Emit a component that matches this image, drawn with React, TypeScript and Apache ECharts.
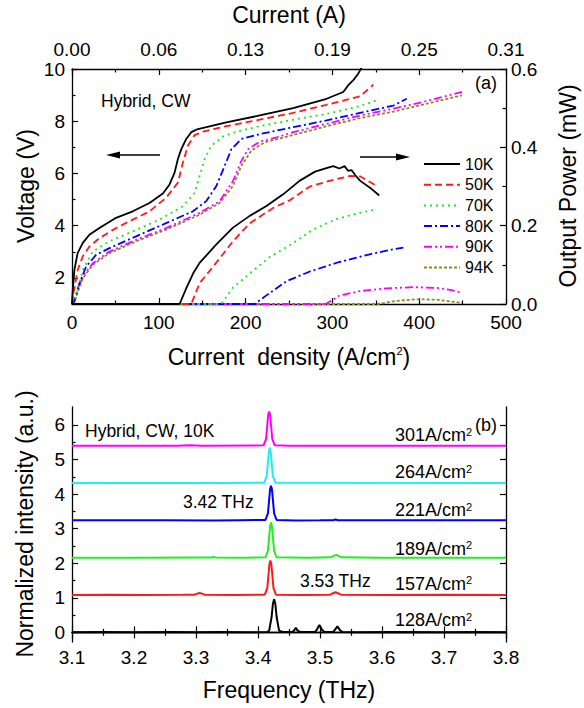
import { useEffect, useRef } from "react";
import * as echarts from "echarts";

// ---- Panel (a): voltage and output power versus current density ----
const temperatures = ["10K", "50K", "70K", "80K", "90K", "94K"];

// Top-axis current labels for density ticks 0, 100, ... 500 A/cm²
const currentTickLabels = ["0.00", "0.06", "0.13", "0.19", "0.25", "0.31"];

// [current density (A/cm²), voltage (V)]
const voltage10K: [number, number][] = [
  [0, 1.0], [0.8, 1.5], [2.7, 2.3], [6.5, 2.95], [12.3, 3.33], [20, 3.65], [31.6, 3.91],
  [50.8, 4.3], [70, 4.55], [89.3, 4.87], [104.7, 5.23], [112.4, 5.58], [118.2, 6.03],
  [122, 6.55], [125.9, 6.93], [131.6, 7.32], [137.4, 7.58], [145.1, 7.7], [177.8, 7.96],
  [216.3, 8.22], [254.8, 8.5], [293.3, 8.86], [312.5, 9.12], [318.3, 9.38], [324.1, 9.57],
  [329.9, 9.83], [333.7, 10.06],
];
const voltage50K: [number, number][] = [
  [0, 1.0], [1.5, 1.4], [3.8, 1.79], [6.5, 2.3], [12.3, 2.82], [20, 3.2], [31.6, 3.52],
  [50.8, 3.91], [70, 4.23], [89.3, 4.55], [108.5, 5.07], [122, 5.65], [127.8, 6.42],
  [133.5, 7.06], [141.2, 7.47], [150.9, 7.6], [177.8, 7.81], [216.3, 8.06], [254.8, 8.32],
  [293.3, 8.63], [331.8, 8.95], [347.2, 9.4],
];
const voltage70K: [number, number][] = [
  [0, 1.0], [2.7, 1.1], [6.5, 1.53], [12.3, 2.3], [23.9, 3.01], [43.1, 3.4], [70, 3.78],
  [100.8, 4.23], [127.8, 4.75], [141.3, 5.26], [147, 5.9], [152.8, 6.55], [160.5, 7.06],
  [174, 7.42], [189.4, 7.6], [216.3, 7.81], [254.8, 8.06], [293.3, 8.28], [331.8, 8.58],
  [351, 8.8],
];
const voltage80K: [number, number][] = [
  [0, 1.0], [2.7, 1.1], [8.5, 1.79], [16.2, 2.43], [27.7, 2.88], [43.1, 3.14], [73.9, 3.59],
  [108.5, 4.1], [139.3, 4.55], [154.7, 4.94], [166.3, 5.52], [175.9, 6.29], [183.6, 6.93],
  [195.1, 7.32], [216.3, 7.51], [254.8, 7.77], [293.3, 8.03], [331.8, 8.32], [370.3, 8.6],
  [385.7, 8.86],
];
const voltage90K: [number, number][] = [
  [0, 1.0], [2.7, 1.1], [6.5, 1.53], [12.3, 2.05], [23.9, 2.56], [43.1, 3.01], [73.9, 3.46],
  [108.5, 3.91], [147, 4.49], [170.1, 4.94], [185.5, 5.71], [195.1, 6.48], [202.8, 6.93],
  [216.3, 7.22], [235.6, 7.38], [254.8, 7.58], [293.3, 7.9], [331.8, 8.22], [370.3, 8.48],
  [408.8, 8.77], [449.2, 9.12],
];
const voltage94K: [number, number][] = [
  [0, 1.0], [2.7, 1.05], [6.5, 1.45], [12.3, 1.98], [23.9, 2.5], [43.1, 2.95], [73.9, 3.4],
  [108.5, 3.85], [147, 4.42], [170.1, 4.87], [185.5, 5.52], [195.1, 6.29], [206.6, 6.87],
  [221.7, 7.19], [254.8, 7.47], [293.3, 7.81], [331.8, 8.12], [370.3, 8.37], [408.8, 8.67],
  [449.2, 8.99],
];

// [current density (A/cm²), output power (mW)]
const power10K: [number, number][] = [
  [0, 0], [124, 0], [131.6, 0.04], [140, 0.08], [147, 0.105], [166.3, 0.152], [185.5, 0.195],
  [204.7, 0.225], [224, 0.25], [243.2, 0.28], [262.5, 0.315], [280, 0.338], [295, 0.348],
  [301, 0.352], [308, 0.346], [314, 0.352], [318, 0.34], [322, 0.342], [326, 0.33],
  [331.8, 0.315], [343.3, 0.297], [354, 0.277],
];
const power50K: [number, number][] = [
  [0, 0], [137.4, 0], [147, 0.053], [162.4, 0.095], [185.5, 0.16], [204.7, 0.206],
  [231.7, 0.245], [250.9, 0.265], [274, 0.3], [301, 0.317], [320.2, 0.327], [331.8, 0.326],
  [339.5, 0.316], [349, 0.304],
];
const power70K: [number, number][] = [
  [0, 0], [172, 0], [185.5, 0.042], [204.7, 0.078], [227.8, 0.12], [250.9, 0.15],
  [277.8, 0.19], [304.8, 0.217], [330, 0.232], [347.2, 0.24],
];
const power80K: [number, number][] = [
  [0, 0], [210.5, 0], [224, 0.022], [247, 0.058], [274, 0.083], [306, 0.106], [343, 0.127],
  [366.4, 0.138], [381.8, 0.144],
];
const power90K: [number, number][] = [
  [0, 0], [292, 0], [300, 0.01], [308.6, 0.022], [331.8, 0.033], [362.6, 0.04],
  [393.4, 0.043], [420.3, 0.041], [436, 0.036], [449.2, 0.029],
];
const power94K: [number, number][] = [
  [0, 0], [352, 0], [374, 0.008], [397, 0.012], [420.3, 0.011], [449.2, 0.003],
];

// ---- Panel (b): lasing spectra at 10K, stacked with vertical offsets ----
const spectrumDensities = [128, 157, 189, 221, 264, 301];
const spectrumOffsets = [0, 1.08, 2.16, 3.24, 4.32, 5.4];

// [frequency (THz), normalized intensity]
const spectrum128: [number, number][] = [
  [3.1, 0], [3.15, 0.01], [3.2, 0], [3.26, 0.01], [3.3, 0], [3.34, 0.01], [3.38, 0],
  [3.415, 0.01], [3.418, 0.05], [3.422, 0.45], [3.424, 0.82], [3.426, 0.96], [3.428, 0.82],
  [3.43, 0.45], [3.434, 0.05], [3.44, 0.01], [3.455, 0.01], [3.458, 0.05], [3.461, 0.13],
  [3.464, 0.05], [3.468, 0.01], [3.492, 0.01], [3.495, 0.08], [3.499, 0.21], [3.503, 0.08],
  [3.507, 0.01], [3.521, 0.01], [3.524, 0.07], [3.528, 0.17], [3.532, 0.07], [3.536, 0.01],
  [3.56, 0], [3.62, 0.01], [3.7, 0], [3.75, 0.01], [3.8, 0],
];
const spectrum157: [number, number][] = [
  [3.1, 0], [3.16, 0.005], [3.22, 0], [3.28, 0.005], [3.298, 0.01], [3.302, 0.04],
  [3.306, 0.06], [3.31, 0.04], [3.314, 0.01], [3.36, 0], [3.411, 0.01], [3.415, 0.2],
  [3.417, 0.6], [3.4185, 0.9], [3.42, 1.0], [3.4215, 0.9], [3.423, 0.6], [3.425, 0.2],
  [3.429, 0.01], [3.47, 0], [3.516, 0.01], [3.521, 0.05], [3.525, 0.08], [3.529, 0.05],
  [3.534, 0.01], [3.6, 0], [3.7, 0.005], [3.8, 0],
];
const spectrum189: [number, number][] = [
  [3.1, 0], [3.2, 0], [3.3, 0.005], [3.324, 0.005], [3.328, 0.02], [3.332, 0.005], [3.38, 0],
  [3.412, 0.01], [3.416, 0.2], [3.418, 0.6], [3.4195, 0.9], [3.421, 1.02], [3.4225, 0.9],
  [3.424, 0.6], [3.426, 0.2], [3.43, 0.01], [3.48, 0], [3.517, 0.01], [3.522, 0.05],
  [3.526, 0.08], [3.53, 0.05], [3.535, 0.01], [3.6, 0], [3.8, 0],
];
const spectrum221: [number, number][] = [
  [3.1, 0], [3.25, 0], [3.33, -0.005], [3.37, 0.005], [3.412, 0.01], [3.416, 0.2],
  [3.418, 0.6], [3.4195, 0.9], [3.421, 1.0], [3.4225, 0.9], [3.424, 0.6], [3.426, 0.2],
  [3.43, 0.01], [3.46, -0.005], [3.5, 0], [3.521, 0.005], [3.525, 0.025], [3.529, 0.005],
  [3.6, 0], [3.8, 0],
];
const spectrum264: [number, number][] = [
  [3.1, 0], [3.14, 0.01], [3.16, 0], [3.3, 0], [3.32, 0.01], [3.34, 0], [3.41, 0.01],
  [3.414, 0.2], [3.416, 0.6], [3.4175, 0.9], [3.419, 1.02], [3.4205, 0.9], [3.422, 0.6],
  [3.424, 0.2], [3.428, 0.01], [3.44, 0.005], [3.8, 0],
];
const spectrum301: [number, number][] = [
  [3.1, 0], [3.27, 0], [3.29, 0.01], [3.31, 0], [3.409, 0.01], [3.413, 0.2], [3.415, 0.6],
  [3.4165, 0.9], [3.418, 0.99], [3.4195, 0.9], [3.421, 0.6], [3.423, 0.2], [3.427, 0.01],
  [3.44, 0.005], [3.45, 0], [3.8, 0],
];

// ---- Styling ----
const FONT = "'Liberation Sans', Arial, Helvetica, sans-serif";
const tempColors = ["#000000", "#ff1a1a", "#1ee61e", "#0000ff", "#ff00ff", "#8c8c1e"];
const tempDashes: any[] = ["solid", [7, 4], [2, 4], [8, 3, 2, 3], [8, 3, 2, 3, 2, 3], [3, 2]];
const spectrumColors = ["#000000", "#ff1a1a", "#22ee22", "#0000ff", "#22eeee", "#ff00ff"];

const voltageCurves = [voltage10K, voltage50K, voltage70K, voltage80K, voltage90K, voltage94K];
const powerCurves = [power10K, power50K, power70K, power80K, power90K, power94K];
const spectra = [spectrum128, spectrum157, spectrum189, spectrum221, spectrum264, spectrum301];

const axisLine = { show: true, lineStyle: { color: "#000", width: 1.3 } };
const tickStyle = { color: "#000", width: 1.2 };
const labelBase = { color: "#000", fontSize: 19, fontFamily: FONT };
const minor = { show: true, splitNumber: 2, length: 3.5, lineStyle: tickStyle };

function buildOption() {
  const grids = [
    { left: 72, top: 69, width: 434, height: 235, outerBoundsMode: "none" },
    { left: 72, top: 407, width: 434, height: 235, outerBoundsMode: "none" },
  ];

  const xAxis: any[] = [
    {
      gridIndex: 0, type: "value", position: "bottom", min: 0, max: 500, interval: 100,
      axisLine, splitLine: { show: false },
      axisTick: { inside: true, length: 6, lineStyle: tickStyle }, minorTick: minor,
      axisLabel: { ...labelBase, margin: 9, showMinLabel: true, showMaxLabel: true },
    },
    {
      gridIndex: 0, type: "value", position: "top", min: 0, max: 500, interval: 100,
      axisLine, splitLine: { show: false },
      axisTick: { inside: true, length: 6, lineStyle: tickStyle }, minorTick: minor,
      axisLabel: {
        ...labelBase, margin: 10, showMinLabel: true, showMaxLabel: true,
        formatter: (v: number) => currentTickLabels[Math.round(v / 100)] ?? "",
      },
    },
    {
      gridIndex: 1, type: "value", position: "bottom", min: 3.1, max: 3.8, interval: 0.1,
      axisLine, splitLine: { show: false },
      axisTick: { inside: true, length: 6, lineStyle: tickStyle }, minorTick: minor,
      axisLabel: {
        ...labelBase, margin: 6, showMinLabel: true, showMaxLabel: true,
        formatter: (v: number) => v.toFixed(1),
      },
    },
    {
      gridIndex: 1, type: "value", position: "top", min: 3.1, max: 3.8, interval: 0.1,
      axisLine, splitLine: { show: false },
      axisTick: { inside: true, length: 6, lineStyle: tickStyle }, minorTick: minor,
      axisLabel: { show: false },
    },
  ];

  const voltageMajor = [2, 4, 6, 8, 10];
  const voltageMinor = [3, 5, 7, 9];
  const intensityMajor = [0, 1, 2, 3, 4, 5, 6];
  const intensityMinor = [0.5, 1.5, 2.5, 3.5, 4.5, 5.5];

  const yAxis: any[] = [
    {
      gridIndex: 0, type: "value", position: "left", min: 1, max: 10,
      axisLine, splitLine: { show: false },
      axisTick: { inside: true, length: 6, lineStyle: tickStyle, customValues: voltageMajor },
      axisLabel: { ...labelBase, margin: 7, customValues: voltageMajor },
    },
    {
      gridIndex: 0, type: "value", position: "left", min: 1, max: 10,
      axisLine: { show: false }, splitLine: { show: false },
      axisTick: { inside: true, length: 3.5, lineStyle: tickStyle, customValues: voltageMinor },
      axisLabel: { show: false },
    },
    {
      gridIndex: 0, type: "value", position: "right", min: 0, max: 0.6, interval: 0.2,
      axisLine, splitLine: { show: false },
      axisTick: { inside: true, length: 6, lineStyle: tickStyle }, minorTick: minor,
      axisLabel: {
        ...labelBase, margin: 5, showMinLabel: true, showMaxLabel: true,
        formatter: (v: number) => v.toFixed(1),
      },
    },
    {
      gridIndex: 1, type: "value", position: "left", min: -0.28, max: 6.52,
      axisLine, splitLine: { show: false },
      axisTick: { inside: true, length: 6, lineStyle: tickStyle, customValues: intensityMajor },
      axisLabel: { ...labelBase, margin: 7, customValues: intensityMajor },
    },
    {
      gridIndex: 1, type: "value", position: "left", min: -0.28, max: 6.52,
      axisLine: { show: false }, splitLine: { show: false },
      axisTick: { inside: true, length: 3.5, lineStyle: tickStyle, customValues: intensityMinor },
      axisLabel: { show: false },
    },
    {
      gridIndex: 1, type: "value", position: "right", min: -0.28, max: 6.52,
      axisLine, splitLine: { show: false },
      axisTick: { inside: true, length: 6, lineStyle: tickStyle, customValues: intensityMajor },
      axisLabel: { show: false },
    },
  ];

  const series: any[] = [];
  temperatures.forEach((t, i) => {
    const style = { color: tempColors[i], width: 1.8, type: tempDashes[i] };
    series.push({
      name: t, type: "line", xAxisIndex: 0, yAxisIndex: 0, data: voltageCurves[i],
      symbol: "none", lineStyle: style, itemStyle: { color: tempColors[i] }, z: 10 - i,
    });
  });
  temperatures.forEach((t, i) => {
    const style = { color: tempColors[i], width: 1.8, type: tempDashes[i] };
    series.push({
      name: t, type: "line", xAxisIndex: 0, yAxisIndex: 2, data: powerCurves[i],
      symbol: "none", lineStyle: style, itemStyle: { color: tempColors[i] }, z: 10 - i,
    });
  });
  spectra.forEach((s, i) => {
    series.push({
      name: `${spectrumDensities[i]} A/cm2`, type: "line", xAxisIndex: 2, yAxisIndex: 3,
      data: s.map(([f, v]) => [f, v + spectrumOffsets[i]]),
      symbol: "none", lineStyle: { color: spectrumColors[i], width: 2 },
      itemStyle: { color: spectrumColors[i] },
    });
  });

  const txt = (x: number, y: number, text: string, size: number, extra: any = {}) => ({
    type: "text", x, y, ...extra,
    style: {
      text, fill: "#000", fontSize: size, fontFamily: FONT,
      textAlign: "left", textVerticalAlign: "middle", ...(extra.style || {}),
    },
  });
  const supRich = {
    s: { fontSize: 11, fontFamily: FONT, fill: "#000", verticalAlign: "top" },
  };

  const densityLabelY = [620, 583.5, 548.5, 510, 472, 435];

  const graphic: any[] = [
    txt(289, 15, "Current (A)", 23, { style: { textAlign: "center" } }),
    txt(289, 357, "Current  density (A/cm{s|2})", 23, { style: { textAlign: "center", rich: supRich } }),
    txt(26, 186, "Voltage (V)", 23, { rotation: Math.PI / 2, style: { textAlign: "center" } }),
    txt(568, 186, "Output Power (mW)", 23, { rotation: Math.PI / 2, style: { textAlign: "center" } }),
    txt(101, 101, "Hybrid, CW", 17.5),
    txt(486, 83, "(a)", 18, { style: { textAlign: "center" } }),
    // arrows pointing to the voltage (left) and power (right) axes
    { type: "line", shape: { x1: 118, y1: 155, x2: 160, y2: 155 }, style: { stroke: "#000", lineWidth: 1.5 } },
    { type: "polygon", shape: { points: [[106, 155], [120, 151.5], [120, 158.5]] }, style: { fill: "#000" } },
    { type: "line", shape: { x1: 360, y1: 157, x2: 398, y2: 157 }, style: { stroke: "#000", lineWidth: 1.5 } },
    { type: "polygon", shape: { points: [[410, 157], [396, 153.5], [396, 160.5]] }, style: { fill: "#000" } },

    txt(25, 524, "Normalized intensity (a.u.)", 23, { rotation: Math.PI / 2, style: { textAlign: "center" } }),
    txt(289, 690, "Frequency (THz)", 23, { style: { textAlign: "center" } }),
    txt(85, 431, "Hybrid, CW, 10K", 17.5),
    txt(183, 502, "3.42 THz", 17.5),
    txt(300, 581, "3.53 THz", 17.5),
    txt(486, 425, "(b)", 18, { style: { textAlign: "center" } }),
    ...spectrumDensities.map((d, i) =>
      txt(395, densityLabelY[i], `${d}A/cm{s|2}`, 18, { style: { rich: supRich } })
    ),
  ];

  return {
    animation: false,
    backgroundColor: "#ffffff",
    textStyle: { fontFamily: FONT },
    grid: grids,
    xAxis,
    yAxis,
    legend: {
      show: true, data: temperatures, orient: "vertical", left: 423, top: 156,
      itemWidth: 36, itemHeight: 14, itemGap: 4.7, padding: 0, selectedMode: false,
      // line-only legend keys (no marker symbol)
      itemStyle: { opacity: 0 },
      textStyle: { fontSize: 16, color: "#000", fontFamily: FONT },
    },
    series,
    graphic,
  };
}

export default function App() {
  const ref = useRef<HTMLDivElement>(null);
  useEffect(() => {
    if (!ref.current) return;
    const chart = echarts.init(ref.current, null, { renderer: "svg" });
    chart.setOption(buildOption() as any);
    return () => chart.dispose();
  }, []);
  return (
    <div
      ref={ref}
      style={{ position: "absolute", left: 0, top: 0, width: 584, height: 708, background: "#fff" }}
    />
  );
}
